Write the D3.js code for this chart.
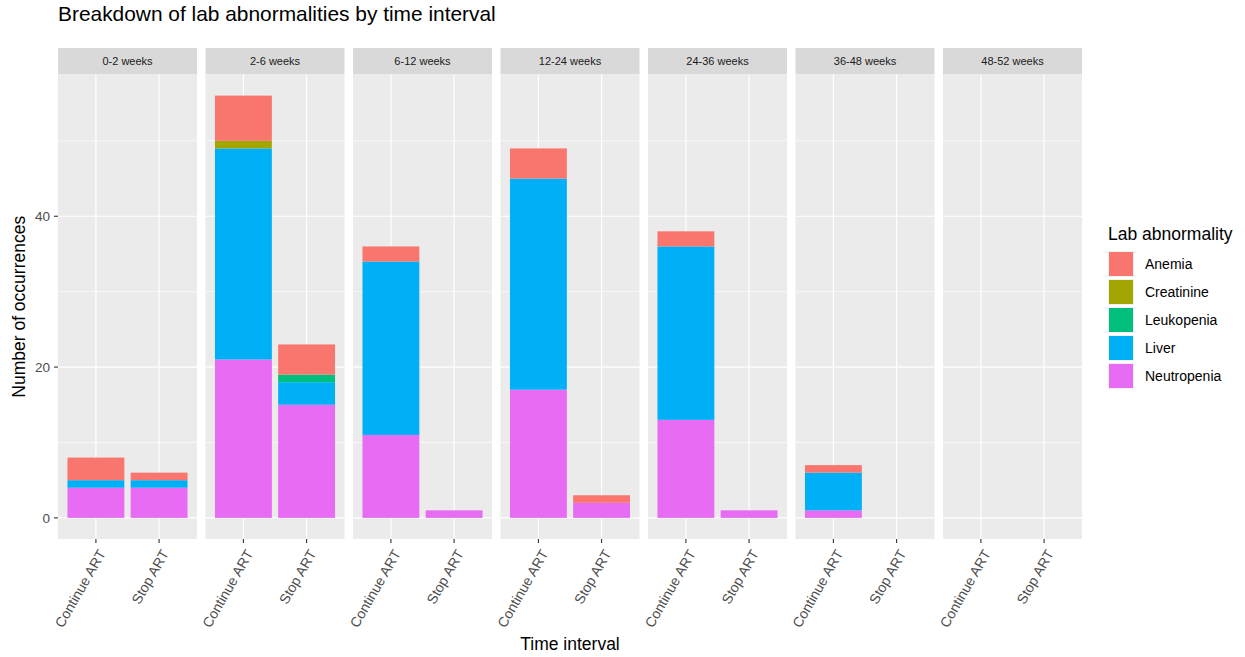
<!DOCTYPE html>
<html>
<head>
<meta charset="utf-8">
<script src="https://cdn.jsdelivr.net/npm/d3@7"></script>
<style>
  body { margin: 0; background: #ffffff; }
  svg { display: block; font-family: "Liberation Sans", Arial, Helvetica, sans-serif; }
</style>
</head>
<body>
<svg id="chart" width="1245" height="657"></svg>
<script>
// Time intervals (facets), treatment arms (x within facet), abnormality types (stack order)
const intervals = ["0-2 weeks", "2-6 weeks", "6-12 weeks", "12-24 weeks", "24-36 weeks", "36-48 weeks", "48-52 weeks"];
const arms = ["Continue ART", "Stop ART"];
const abnormalities = ["Anemia", "Creatinine", "Leukopenia", "Liver", "Neutropenia"];
const colors = ["#F8766D", "#A3A500", "#00BF7D", "#00B0F6", "#E76BF3"];
const yTicks = [0, 20, 40];
const yMinor = [10, 30, 50];

// Counts per abnormality: one value per interval, for each arm
const anemiaContinue      = [3, 6, 2, 4, 2, 1, 0];
const anemiaStop          = [1, 4, 0, 1, 0, 0, 0];
const creatinineContinue  = [0, 1, 0, 0, 0, 0, 0];
const creatinineStop      = [0, 0, 0, 0, 0, 0, 0];
const leukopeniaContinue  = [0, 0, 0, 0, 0, 0, 0];
const leukopeniaStop      = [0, 1, 0, 0, 0, 0, 0];
const liverContinue       = [1, 28, 23, 28, 23, 5, 0];
const liverStop           = [1, 3, 0, 0, 0, 0, 0];
const neutropeniaContinue = [4, 21, 11, 17, 13, 1, 0];
const neutropeniaStop     = [4, 15, 1, 2, 1, 0, 0];

const seriesByArm = {
  "Continue ART": [anemiaContinue, creatinineContinue, leukopeniaContinue, liverContinue, neutropeniaContinue],
  "Stop ART":     [anemiaStop, creatinineStop, leukopeniaStop, liverStop, neutropeniaStop]
};

// Tidy rows: one per interval x arm, with a column per abnormality
const rows = [];
intervals.forEach((iv, i) => {
  arms.forEach(arm => {
    const r = { interval: iv, arm: arm };
    abnormalities.forEach((ab, k) => { r[ab] = seriesByArm[arm][k][i]; });
    rows.push(r);
  });
});

const svg = d3.select("#chart");

// Layout
const panelLeft = 58, panelRight = 1082, panelGap = 8.5;
const stripTop = 48, stripH = 26.5;
const panelTop = stripTop + stripH, panelBottom = 539;
const nP = intervals.length;
const panelW = (panelRight - panelLeft - panelGap * (nP - 1)) / nP;

// Stack: bottom layer is the last abnormality (Neutropenia), top is Anemia
const stackKeys = abnormalities.slice().reverse();
const stacked = d3.stack().keys(stackKeys)(rows);

const maxTotal = d3.max(rows, r => d3.sum(abnormalities, a => r[a]));
const yPad = maxTotal * 0.05;
const y = d3.scaleLinear().domain([-yPad, maxTotal + yPad]).range([panelBottom, panelTop]);

// Discrete x within a panel: expansion 0.6 on each side, bar width 0.9
const xCont = d3.scaleLinear().domain([0.4, arms.length + 0.6]).range([0, panelW]);
const barW = xCont(1.9) - xCont(1);
const colorScale = d3.scaleOrdinal().domain(abnormalities).range(colors);

// Title
svg.append("text").attr("x", 58).attr("y", 20.5)
  .attr("font-size", 20.9).attr("fill", "#000").text("Breakdown of lab abnormalities by time interval");

intervals.forEach((iv, i) => {
  const px = panelLeft + i * (panelW + panelGap);
  const g = svg.append("g").attr("transform", `translate(${px},0)`);

  // Strip
  g.append("rect").attr("x", 0).attr("y", stripTop).attr("width", panelW).attr("height", stripH).attr("fill", "#D9D9D9");
  g.append("text").attr("x", panelW / 2).attr("y", stripTop + stripH / 2 + 4)
    .attr("text-anchor", "middle").attr("font-size", 11).attr("fill", "#1A1A1A").text(iv);

  // Panel background and grid
  g.append("rect").attr("x", 0).attr("y", panelTop).attr("width", panelW).attr("height", panelBottom - panelTop).attr("fill", "#EBEBEB");
  yMinor.forEach(v => {
    g.append("line").attr("x1", 0).attr("x2", panelW).attr("y1", y(v)).attr("y2", y(v))
      .attr("stroke", "#FFFFFF").attr("stroke-width", 0.6);
  });
  yTicks.forEach(v => {
    g.append("line").attr("x1", 0).attr("x2", panelW).attr("y1", y(v)).attr("y2", y(v))
      .attr("stroke", "#FFFFFF").attr("stroke-width", 1.2);
  });
  arms.forEach((a, j) => {
    g.append("line").attr("x1", xCont(j + 1)).attr("x2", xCont(j + 1)).attr("y1", panelTop).attr("y2", panelBottom)
      .attr("stroke", "#FFFFFF").attr("stroke-width", 1.2);
  });

  // Bars
  stacked.forEach(layer => {
    const key = layer.key;
    layer.forEach(d => {
      if (d.data.interval !== iv) return;
      if (d[1] - d[0] <= 0) return;
      const j = arms.indexOf(d.data.arm);
      g.append("rect")
        .attr("x", xCont(j + 1) - barW / 2)
        .attr("y", y(d[1]))
        .attr("width", barW)
        .attr("height", y(d[0]) - y(d[1]))
        .attr("fill", colorScale(key));
    });
  });

  // X ticks and rotated labels
  arms.forEach((a, j) => {
    const tx = xCont(j + 1);
    g.append("line").attr("x1", tx).attr("x2", tx).attr("y1", panelBottom).attr("y2", panelBottom + 4)
      .attr("stroke", "#333333").attr("stroke-width", 1.1);
    g.append("text")
      .attr("transform", `translate(${tx + 6},${panelBottom + 12}) rotate(-60)`)
      .attr("text-anchor", "end").attr("dy", "0.35em")
      .attr("font-size", 14).attr("fill", "#4D4D4D").text(a);
  });
});

// Y axis ticks and labels (left of first panel)
const yAxis = svg.append("g");
yTicks.forEach(v => {
  yAxis.append("line").attr("x1", panelLeft - 4).attr("x2", panelLeft).attr("y1", y(v)).attr("y2", y(v))
    .attr("stroke", "#333333").attr("stroke-width", 1.1);
  yAxis.append("text").attr("x", panelLeft - 8).attr("y", y(v)).attr("dy", "0.35em")
    .attr("text-anchor", "end").attr("font-size", 13.5).attr("fill", "#4D4D4D").text(v);
});

// Axis titles
svg.append("text").attr("x", 570).attr("y", 650)
  .attr("text-anchor", "middle").attr("font-size", 17.5).attr("fill", "#000").text("Time interval");
svg.append("text").attr("transform", `translate(25,${(panelTop + panelBottom) / 2}) rotate(-90)`)
  .attr("text-anchor", "middle").attr("font-size", 17.5).attr("fill", "#000").text("Number of occurrences");

// Legend
const lg = svg.append("g").attr("transform", "translate(1108,0)");
lg.append("text").attr("x", 0).attr("y", 240).attr("font-size", 17.5).attr("fill", "#000").text("Lab abnormality");
abnormalities.forEach((ab, k) => {
  const ky = 251 + k * 28;
  lg.append("rect").attr("x", 0).attr("y", ky).attr("width", 26).attr("height", 26).attr("fill", "#F2F2F2");
  lg.append("rect").attr("x", 1).attr("y", ky + 1).attr("width", 24).attr("height", 24).attr("fill", colorScale(ab));
  lg.append("text").attr("x", 37).attr("y", ky + 13).attr("dy", "0.35em")
    .attr("font-size", 14).attr("fill", "#000").text(ab);
});
</script>
</body>
</html>
